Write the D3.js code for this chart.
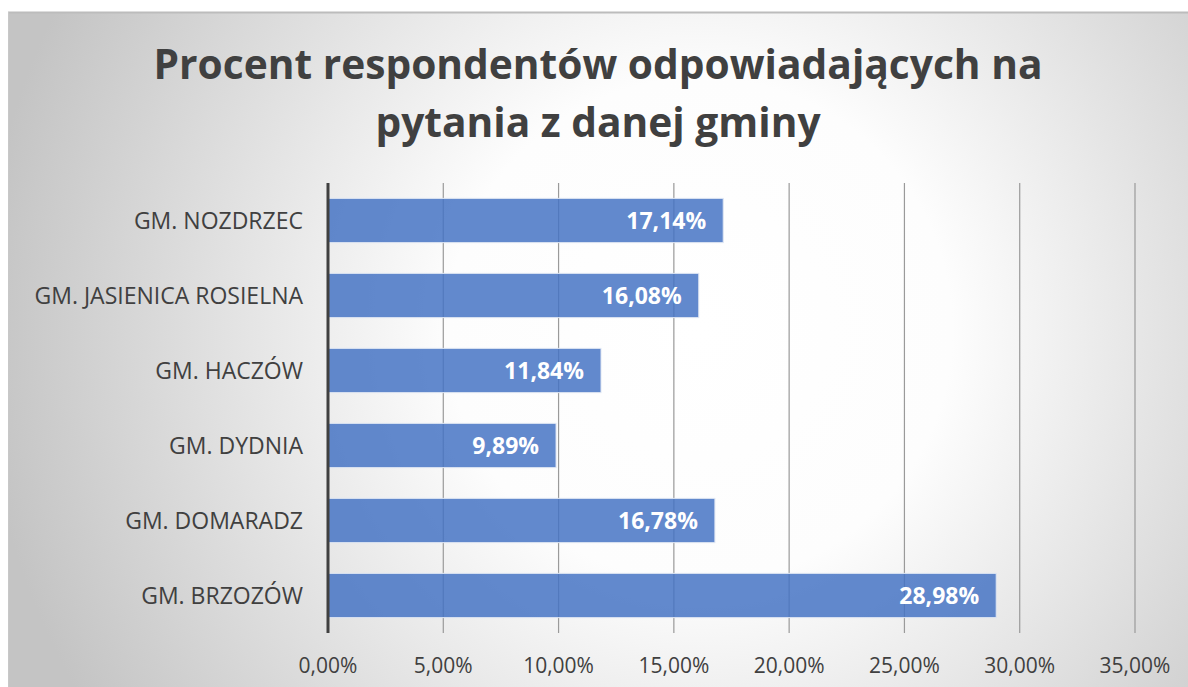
<!DOCTYPE html>
<html>
<head>
<meta charset="utf-8">
<script src="https://cdn.jsdelivr.net/npm/d3@7"></script>
<style>
  html, body { margin: 0; padding: 0; background: #ffffff; overflow: hidden; }
  svg { display: block; }
</style>
</head>
<body>
<div id="chart"></div>
<script>
// dane
const categories = ["GM. NOZDRZEC", "GM. JASIENICA ROSIELNA", "GM. HACZÓW", "GM. DYDNIA", "GM. DOMARADZ", "GM. BRZOZÓW"];
const values = [17.14, 16.08, 11.84, 9.89, 16.78, 28.98];
const tickValues = [0, 5, 10, 15, 20, 25, 30, 35];
const titleLines = ["Procent respondentów odpowiadających na", "pytania z danej gminy"];

const width = 1188, height = 687;
const fontFamily = "'Open Sans', 'Noto Sans', sans-serif";
const textColor = "#404040";
const fmt = d => d.toFixed(2).replace(".", ",") + "%";

const svg = d3.select("#chart").append("svg")
    .attr("width", width).attr("height", height)
    .attr("viewBox", `0 0 ${width} ${height}`);

// tło z gradientem radialnym
const defs = svg.append("defs");
const grad = defs.append("radialGradient")
    .attr("id", "bg").attr("gradientUnits", "userSpaceOnUse")
    .attr("cx", 700).attr("cy", 330).attr("r", 720);
grad.append("stop").attr("offset", "0").attr("stop-color", "#ffffff");
grad.append("stop").attr("offset", "0.35").attr("stop-color", "#fdfdfd");
grad.append("stop").attr("offset", "1").attr("stop-color", "#c4c4c4");

svg.append("rect")
    .attr("x", 8).attr("y", 12).attr("width", width).attr("height", height)
    .attr("fill", "url(#bg)");
svg.append("line")
    .attr("x1", 8).attr("x2", width).attr("y1", 12.5).attr("y2", 12.5)
    .attr("stroke", "#bcbcbc").attr("stroke-width", 2);
svg.append("line")
    .attr("x1", 8.5).attr("x2", 8.5).attr("y1", 12).attr("y2", height)
    .attr("stroke", "#c8c8c8").attr("stroke-width", 1);

// tytuł
const title = svg.append("text")
    .attr("text-anchor", "middle")
    .attr("fill", textColor)
    .style("font-family", fontFamily)
    .style("font-weight", "bold")
    .style("font-size", "41px");
const tspans = titleLines.map((line, i) =>
    title.append("tspan").attr("x", 598).attr("y", 79 + i * 58).text(line));
// dopasowanie szerokości pierwszej linii (~890px)
const w0 = tspans[0].node().getComputedTextLength();
if (w0 > 0) title.style("font-size", (41 * Math.min(1.1, Math.max(0.9, 890 / w0))).toFixed(1) + "px");

// skale
const margin = { left: 328, right: 1135, top: 183, bottom: 633 };
const x = d3.scaleLinear().domain([0, 35]).range([margin.left, margin.right]);
const y = d3.scaleBand().domain(categories).range([margin.top, margin.bottom]).paddingInner(0.41).paddingOuter(0.205);

// linie siatki
svg.append("g").selectAll("line").data(tickValues.slice(1)).enter().append("line")
    .attr("x1", d => x(d)).attr("x2", d => x(d))
    .attr("y1", margin.top).attr("y2", margin.bottom)
    .attr("stroke", "#9a9a9a").attr("stroke-width", 1.2);

// słupki
svg.append("g").selectAll("rect").data(values).enter().append("rect")
    .attr("x", x(0))
    .attr("y", (d, i) => y(categories[i]))
    .attr("width", d => x(d) - x(0))
    .attr("height", y.bandwidth())
    .attr("fill", "#4472c4").attr("fill-opacity", 0.84)
    .attr("stroke", "#dfe6f3").attr("stroke-width", 1);

// etykiety wartości
svg.append("g").selectAll("text").data(values).enter().append("text")
    .attr("x", d => x(d) - 17)
    .attr("y", (d, i) => y(categories[i]) + y.bandwidth() / 2)
    .attr("dy", "0.37em")
    .attr("text-anchor", "end")
    .attr("fill", "#ffffff")
    .style("font-family", fontFamily)
    .style("font-weight", "bold")
    .style("font-size", "23px")
    .text(fmt);

// oś pionowa
svg.append("line")
    .attr("x1", x(0)).attr("x2", x(0))
    .attr("y1", margin.top).attr("y2", margin.bottom)
    .attr("stroke", "#404040").attr("stroke-width", 3);

// etykiety kategorii
svg.append("g").selectAll("text").data(categories).enter().append("text")
    .attr("x", 303)
    .attr("y", d => y(d) + y.bandwidth() / 2)
    .attr("dy", "0.36em")
    .attr("text-anchor", "end")
    .attr("fill", textColor)
    .style("font-family", fontFamily)
    .style("font-size", "23px")
    .text(d => d);

// etykiety osi X
svg.append("g").selectAll("text").data(tickValues).enter().append("text")
    .attr("x", d => x(d))
    .attr("y", 673)
    .attr("text-anchor", "middle")
    .attr("fill", textColor)
    .style("font-family", fontFamily)
    .style("font-size", "21px")
    .text(fmt);
</script>
</body>
</html>
